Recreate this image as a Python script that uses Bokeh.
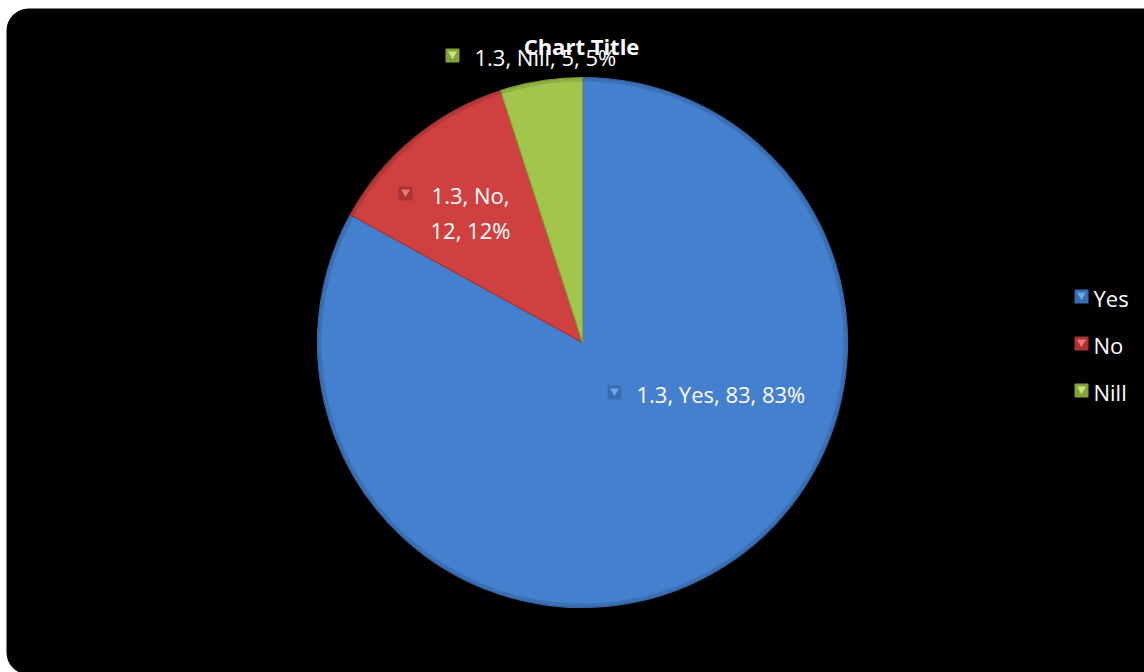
import math
from bokeh.plotting import figure
from bokeh.models import ColumnDataSource
from bokeh.core.properties import value
from bokeh.embed import file_html
from bokeh.resources import INLINE

# ---- data ----
series_name = "1.3"
categories = ["Yes", "No", "Nill"]
values = [83, 12, 5]
chart_title = "Chart Title"

# ---- styles / layout ----
W, H = 1144, 672
fill_colors = ["#4580cf", "#cf4140", "#a2c64c"]
edge_colors = ["#3a6cb0", "#a83433", "#83a23c"]
light_colors = ["#6fa6ea", "#ee7472", "#c6e47a"]
font = "Open Sans"
fs = "22px"
cx, cy, R = 582, H - 342, 265
# label anchors (marker position) in pixel coords relative to pie centre, per slice
label_offsets = [(32, -50), (-177, 149), (-130, 287)]
label_line_split = [1, 2, 1]

total = sum(values)
pcts = [round(v * 100 / total) for v in values]

p = figure(width=W, height=H, x_range=(0, W), y_range=(0, H),
           output_backend="svg", toolbar_location=None, min_border=0,
           background_fill_color="white", border_fill_color="white",
           outline_line_color=None)
p.axis.visible = False
p.grid.visible = False

# black rounded panel
p.quad(left=6, right=W + 30, bottom=-2, top=H - 8, fill_color="black",
       line_color=None, border_radius=22)

# pie wedges
starts, ends = [], []
cum = 0
for v in values:
    a0 = math.radians(90 - cum * 360 / total)
    cum += v
    a1 = math.radians(90 - cum * 360 / total)
    starts.append(a0)
    ends.append(a1)
src = ColumnDataSource(dict(start=starts, end=ends, fill=fill_colors,
                            edge=edge_colors, cat=categories, val=values))
p.wedge(x=cx, y=cy, radius=R, start_angle="start", end_angle="end",
        direction="clock", fill_color="fill", line_color="edge",
        line_width=1.2, source=src)
# subtle bevel shade round the rim
p.annular_wedge(x=cx, y=cy, inner_radius=R - 4, outer_radius=R,
                start_angle=0, end_angle=2 * math.pi,
                fill_color="black", fill_alpha=0.12, line_color=None)


def marker(x, y, i):
    p.scatter([x], [y], marker="square", size=13, fill_color=edge_colors[i],
              line_color=edge_colors[i])
    p.scatter([x], [y + 1.5], marker="inverted_triangle", size=9,
              fill_color=light_colors[i], line_color=None)


# data labels
for i, (cat, v, pc) in enumerate(zip(categories, values, pcts)):
    dx, dy = label_offsets[i]
    mx, my = cx + dx, cy + dy
    marker(mx, my, i)
    full = f"{series_name}, {cat}, {v}, {pc}%"
    if label_line_split[i] == 2:
        lines = [f"{series_name}, {cat},", f"{v}, {pc}%"]
        for k, ln in enumerate(lines):
            p.text([mx + 65], [my - 1 - 35 * k], text=[ln], text_color="white",
                   text_font=value(font), text_font_size=fs,
                   text_baseline="middle", text_align="center")
    else:
        p.text([mx + 22], [my - 1], text=[full], text_color="white",
               text_font=value(font), text_font_size=fs,
               text_baseline="middle", text_align="left")

# title
p.text([581], [H - 45], text=[chart_title], text_color="white",
       text_font=value(font), text_font_size=fs, text_font_style="bold",
       text_baseline="middle", text_align="center")

# legend
for i, cat in enumerate(categories):
    ly = H - (296 + 47 * i)
    marker(1081, ly, i)
    p.text([1093], [ly - 1], text=[cat], text_color="white",
           text_font=value(font), text_font_size=fs,
           text_baseline="middle", text_align="left")

open("out.html", "w").write(file_html(p, INLINE))
